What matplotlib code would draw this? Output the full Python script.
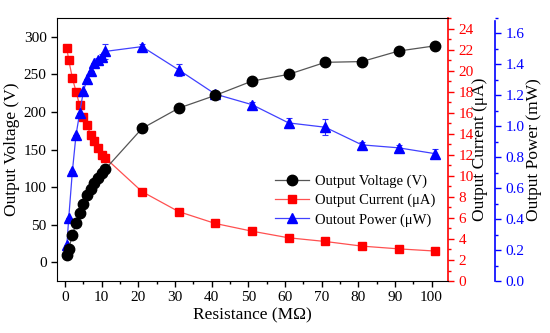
import matplotlib
matplotlib.use('Agg')
import matplotlib.pyplot as plt
from matplotlib.ticker import MultipleLocator, FormatStrFormatter

plt.rcParams['font.family'] = ['Liberation Serif', 'DejaVu Serif']

# Données
resistance = [0.5, 1, 2, 3, 4, 5, 6, 7, 8, 9, 10, 11, 21, 31, 41, 51, 61, 71, 81, 91, 101]
voltage = [10, 18, 36, 52, 66, 78, 89, 97, 105, 112, 119, 124, 178, 205,
           222, 241, 250, 266, 267, 281, 288]
current = [22.1, 21.0, 19.3, 18.0, 16.7, 15.6, 14.8, 13.9, 13.3, 12.6, 12.0, 11.7,
           8.5, 6.6, 5.47, 4.74, 4.11, 3.76, 3.32, 3.06, 2.85]
power = [0.233, 0.405, 0.709, 0.945, 1.087, 1.226, 1.305, 1.356, 1.41, 1.43, 1.445, 1.484,
         1.515, 1.365, 1.208, 1.14, 1.022, 0.994, 0.88, 0.861, 0.823]
power_err = [0, 0, 0, 0, 0, 0, 0, 0, 0, 0.01, 0.02, 0.05,
             0.02, 0.04, 0.01, 0.02, 0.03, 0.05, 0.02, 0.02, 0.03]

fig = plt.figure(figsize=(5.5, 3.33), dpi=100)
ax = fig.add_axes([0.1036, 0.156, 0.711, 0.79])
ax2 = ax.twinx()
ax3 = ax.twinx()

l1, = ax.plot(resistance, voltage, '-', color='#555555', lw=0.9, marker='o', ms=7.5,
              mfc='black', mec='black', zorder=3, label='Output Voltage (V)')
l2, = ax2.plot(resistance, current, '-', color='#ff5050', lw=0.9, marker='s', ms=5.5,
               mfc='red', mec='red', label='Output Current (\u03bcA)')
ax3.errorbar(resistance, power, yerr=power_err, fmt='none', ecolor='#3030ff', elinewidth=0.8,
             capsize=2.5, capthick=0.8)
l3, = ax3.plot(resistance, power, '-', color='#4040ff', lw=0.9, marker='^', ms=6.5,
               mfc='blue', mec='blue', label='Outout Power (\u03bcW)')

# Axe gauche
ax.set_xlim(-2.2, 104.5)
ax.set_ylim(-25, 325)
ax.yaxis.set_major_locator(MultipleLocator(50))
ax.xaxis.set_major_locator(MultipleLocator(10))
ax.xaxis.set_minor_locator(MultipleLocator(5))
ax.set_xlabel('Resistance (M\u03a9)', fontsize=12.5, labelpad=2)
ax.set_ylabel('Output Voltage (V)', fontsize=12.5, labelpad=3)
ax.tick_params(axis='both', labelsize=11, direction='out', length=4, width=1)
ax.tick_params(axis='x', which='minor', direction='out', length=2.5, width=1)
ax.spines['right'].set_visible(False)

# Axe rouge
ax2.set_ylim(0, 25)
ax2.yaxis.set_major_locator(MultipleLocator(2))
ax2.yaxis.set_minor_locator(MultipleLocator(1))
ax2.spines['right'].set_color('red')
ax2.spines['right'].set_linewidth(1.2)
ax2.tick_params(axis='y', which='both', colors='red', labelsize=11, direction='out', width=1)
ax2.tick_params(axis='y', which='major', length=4)
ax2.tick_params(axis='y', which='minor', length=2.5)
ax2.set_ylabel('Output Current (\u03bcA)', fontsize=12.5, color='black', labelpad=-1)
for s in ['left', 'top', 'bottom']:
    ax2.spines[s].set_visible(False)

# Axe bleu
ax3.set_ylim(0, 1.7)
ax3.spines['right'].set_position(('outward', 34))
ax3.spines['right'].set_color('blue')
ax3.spines['right'].set_linewidth(1.2)
ax3.spines['right'].set_bounds(0, 1.68)
ax3.yaxis.set_major_locator(MultipleLocator(0.2))
ax3.yaxis.set_minor_locator(MultipleLocator(0.1))
ax3.yaxis.set_major_formatter(FormatStrFormatter('%.1f'))
ax3.tick_params(axis='y', which='both', colors='blue', labelsize=11, direction='out', width=1)
ax3.tick_params(axis='y', which='major', length=4)
ax3.tick_params(axis='y', which='minor', length=2.5)
ax3.set_ylabel('Output Power (mW)', fontsize=12.5, color='black', labelpad=1)
for s in ['left', 'top', 'bottom']:
    ax3.spines[s].set_visible(False)

ax.set_zorder(3)
ax.patch.set_visible(False)

leg = ax.legend(handles=[l1, l2, l3], loc='upper left', bbox_to_anchor=(0.558, 0.405),
                frameon=False, fontsize=10.5, handlelength=2.3, handletextpad=0.4,
                labelspacing=0.4, borderaxespad=0, borderpad=0)

fig.savefig('out.png', dpi=100)
